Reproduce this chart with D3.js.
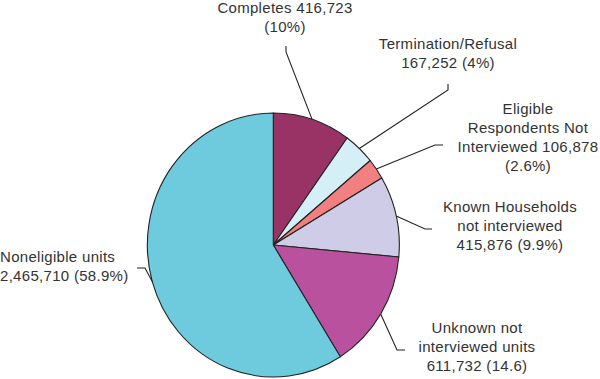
<!DOCTYPE html>
<html><head><meta charset="utf-8">
<script src="https://cdn.jsdelivr.net/npm/d3@7"></script>
<style>body{margin:0;background:#fff}svg{display:block}</style>
</head><body>
<svg id="chart" width="600" height="379"></svg>
<script>
const categories = ["Completes","Termination/Refusal","Eligible Respondents Not Interviewed","Known Households not interviewed","Unknown not interviewed units","Noneligible units"];
const counts = [416723,167252,106878,415876,611732,2465710];
const labelLines = [
  ["Completes 416,723","(10%)"],
  ["Termination/Refusal","167,252 (4%)"],
  ["Eligible","Respondents Not","Interviewed 106,878","(2.6%)"],
  ["Known Households","not interviewed","415,876 (9.9%)"],
  ["Unknown not","interviewed units","611,732 (14.6)"],
  ["Noneligible units","2,465,710 (58.9%)"]
];
const colors = ["#993366","#d5eff6","#f28080","#cecce6","#b9519f","#6dcbdd"];

// label layout: text anchor point, first baseline, and leader elbow/end
const layout = [
  {x:285, y:12.5, anchor:"middle", elbow:[286,52], end:[286,46]},
  {x:448, y:49, anchor:"middle", elbow:[448,90], end:[448,84]},
  {x:528, y:113.5, anchor:"middle", elbow:[435,145], end:[443,145]},
  {x:510, y:211.5, anchor:"middle", elbow:[425,229], end:[432,229]},
  {x:477, y:332.5, anchor:"middle", elbow:[397,350], end:[405,350]},
  {x:0, y:261.5, anchor:"start", elbow:[145,268], end:[137,268]}
];
const lineH = 19.3;
const cx = 273.3, cy = 245, rx = 126, ry = 132;

const svg = d3.select("#chart");
const pie = d3.pie().sort(null).value(d => d)(counts);
const arc = d3.arc().innerRadius(0).outerRadius(1);

const g = svg.append("g").attr("transform", `translate(${cx},${cy}) scale(${rx},${ry})`);
g.selectAll("path").data(pie).enter().append("path")
  .attr("d", arc)
  .attr("fill", (d,i) => colors[i])
  .attr("stroke", "#222")
  .attr("stroke-width", 1.1)
  .attr("stroke-linejoin", "round")
  .attr("vector-effect", "non-scaling-stroke");

// leaders
pie.forEach((d,i) => {
  const a = (d.startAngle + d.endAngle) / 2;
  const px = cx + rx * Math.sin(a), py = cy - ry * Math.cos(a);
  const L = layout[i];
  svg.append("polyline")
    .attr("points", [[px,py], L.elbow, L.end].map(p => p.join(",")).join(" "))
    .attr("fill", "none").attr("stroke", "#222").attr("stroke-width", 1.1);
});

// labels
labelLines.forEach((lines,i) => {
  const L = layout[i];
  const t = svg.append("text")
    .attr("font-family", "Liberation Sans, Arial, sans-serif")
    .attr("font-size", 15)
    .attr("letter-spacing", 0.3)
    .attr("fill", "#333")
    .attr("text-anchor", L.anchor);
  lines.forEach((s,j) => {
    t.append("tspan").attr("x", L.x).attr("y", L.y + j*lineH).text(s);
  });
});
</script>
</body></html>
